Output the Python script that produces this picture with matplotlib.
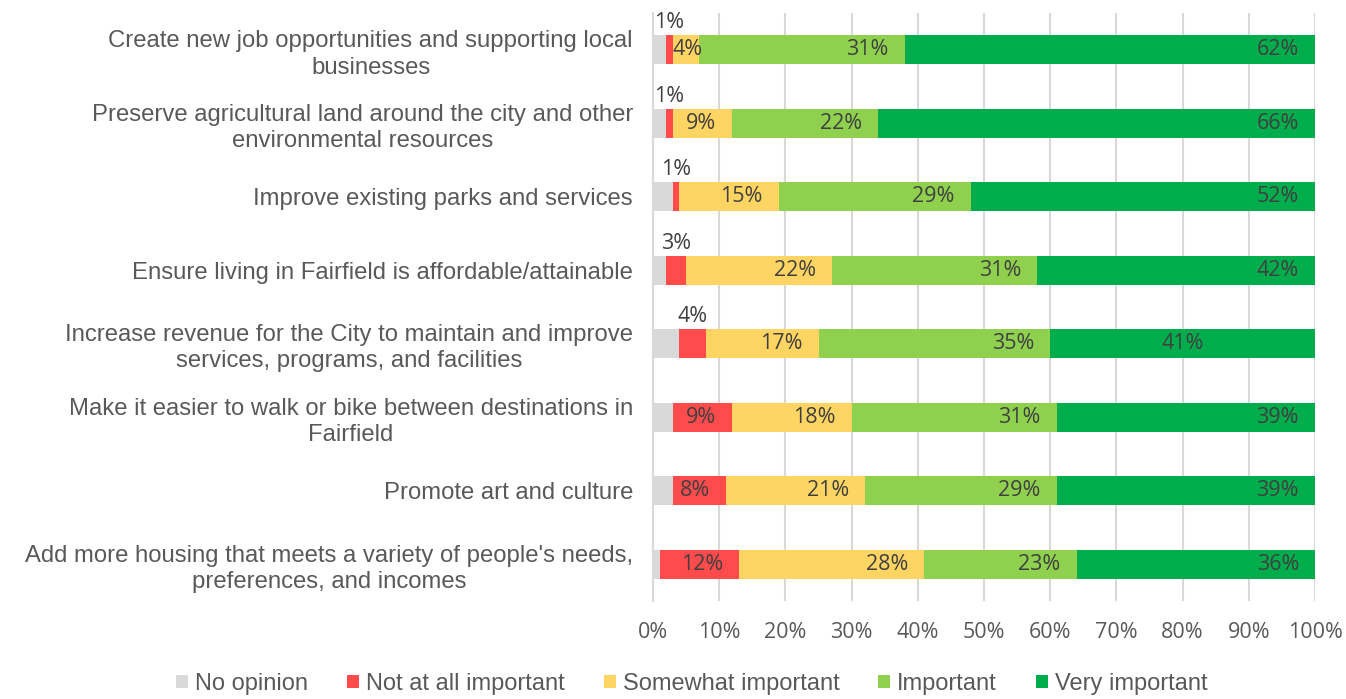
import matplotlib
matplotlib.use("Agg")
import matplotlib.pyplot as plt
from matplotlib.patches import Patch
import numpy as np

categories = [
    "Create new job opportunities and supporting local\nbusinesses",
    "Preserve agricultural land around the city and other\nenvironmental resources",
    "Improve existing parks and services",
    "Ensure living in Fairfield is affordable/attainable",
    "Increase revenue for the City to maintain and improve\nservices, programs, and facilities",
    "Make it easier to walk or bike between destinations in\nFairfield",
    "Promote art and culture",
    "Add more housing that meets a variety of people's needs,\npreferences, and incomes",
]
series_names = ["No opinion", "Not at all important", "Somewhat important", "Important", "Very important"]
no_opinion = [2, 2, 3, 2, 4, 3, 3, 1]
not_at_all = [1, 1, 1, 3, 4, 9, 8, 12]
somewhat = [4, 9, 15, 22, 17, 18, 21, 28]
important = [31, 22, 29, 31, 35, 31, 29, 23]
very = [62, 66, 52, 42, 41, 39, 39, 36]
x_ticks = [0, 10, 20, 30, 40, 50, 60, 70, 80, 90, 100]
x_tick_labels = [f"{v}%" for v in x_ticks]

colors = ["#d9d9d9", "#ff4b4b", "#fed463", "#8fd14f", "#00ad4d"]
series = [no_opinion, not_at_all, somewhat, important, very]

W, H = 1346, 699
fig = plt.figure(figsize=(W / 100, H / 100), dpi=100)
ax = fig.add_axes([653 / W, (H - 601) / H, (1315 - 653) / W, (601 - 13) / H])

y = np.arange(len(categories))
left = np.zeros(len(categories))
label_font = dict(family=["Open Sans", "DejaVu Sans"], fontsize=15.5, color="#404040")
for si, (vals, col) in enumerate(zip(series, colors)):
    vals = np.array(vals, dtype=float)
    ax.barh(y, vals, left=left, height=0.40, color=col, zorder=3)
    if si > 0:
        for i, v in enumerate(vals):
            start = left[i]
            end = start + v
            lab = f"{int(v)}%"
            if si == 1 and v <= 4:
                ax.text((start + end) / 2, i - 0.37, lab, ha="center", va="center", zorder=4, **label_font)
            elif end > 100:
                ax.text((start + 100) / 2, i, lab, ha="center", va="center", zorder=4, **label_font)
            elif v <= 5:
                ax.annotate(lab, (start, i), xytext=(0, 0), textcoords="offset points",
                            ha="left", va="center", zorder=4, **label_font)
            else:
                ax.annotate(lab, (end, i), xytext=(-11.5, 0), textcoords="offset points",
                            ha="right", va="center", zorder=4, **label_font)
    left = left + vals

ax.set_xlim(0, 100)
ax.set_ylim(len(categories) - 0.5, -0.5)
ax.set_xticks(x_ticks)
ax.set_xticklabels(x_tick_labels, family=["Open Sans", "DejaVu Sans"], fontsize=15.5, color="#595959")
ax.set_yticks(y)
ax.set_yticklabels(categories, family=["Liberation Sans", "DejaVu Sans"], fontsize=17.2, color="#595959",
                   linespacing=1.25)
for t in ax.get_yticklabels():
    t.set_multialignment("center")
ax.tick_params(axis="y", length=0, pad=14.4)
ax.tick_params(axis="x", length=0, pad=15)
ax.grid(axis="x", color="#d9d9d9", linewidth=1.5, zorder=0)
for s in ["top", "right", "bottom"]:
    ax.spines[s].set_visible(False)
ax.spines["left"].set_color("#d9d9d9")
ax.spines["left"].set_linewidth(1.5)

handles = [Patch(facecolor=c, edgecolor="none", label=n) for c, n in zip(colors, series_names)]
fig.legend(handles=handles, loc="center", bbox_to_anchor=(692 / W, (H - 684) / H), ncol=5,
           frameon=False, prop=dict(family=["Liberation Sans", "DejaVu Sans"], size=17),
           labelcolor="#595959", handlelength=0.5, handleheight=0.5, handletextpad=0.3,
           columnspacing=1.65)

fig.savefig("out.png", dpi=100)
